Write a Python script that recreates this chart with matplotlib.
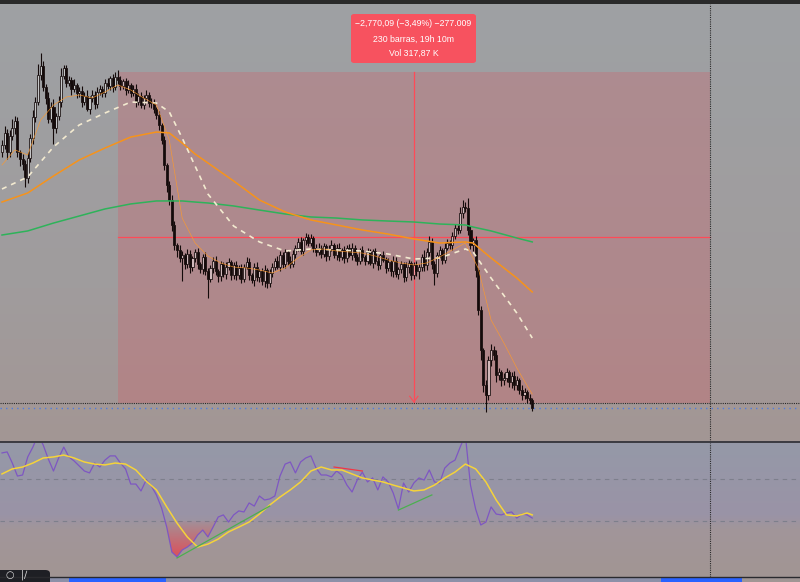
import numpy as np
import matplotlib.pyplot as plt
from matplotlib.patches import Rectangle, FancyBboxPatch
from matplotlib.lines import Line2D
from matplotlib.path import Path
from matplotlib.colors import to_rgb


# Dados: candles, medias moveis e RSI
##################################################################

first_open = 78700
closes = [
    78758, 78860, 78700, 78830, 78900, 78960, 78700, 78640, 78600, 78480,
    78650, 78820, 78990, 79120, 79344, 79420, 79240, 79150, 78980, 79080,
    78900, 79000, 79120, 79340, 79400, 79280, 79300, 79230, 79260, 79190,
    79210, 79120, 79170, 79060, 79150, 79180, 79100, 79200, 79230, 79190,
    79280, 79250, 79320, 79240, 79330, 79302, 79250, 79290, 79220, 79260,
    79190, 79230, 79120, 79170, 79090, 79150, 79180, 79110, 79120, 79060,
    79010, 78926, 78800, 78591, 78424, 78298, 78089, 77921, 77880, 77813,
    77838, 77760, 77850, 77740, 77810, 77860, 77760, 77720, 77820, 77700,
    77640, 77730, 77790, 77700, 77660, 77760, 77680, 77740, 77780, 77670,
    77750, 77670, 77730, 77640, 77740, 77780, 77670, 77630, 77740, 77650,
    77700, 77620, 77710, 77600, 77690, 77740, 77790, 77740, 77840, 77760,
    77860, 77790, 77760, 77850, 77900, 77950, 77870, 77960, 77990, 77940,
    77980, 77900, 77860, 77900, 77850, 77910, 77830, 77890, 77920, 77840,
    77900, 77820, 77880, 77810, 77900, 77840, 77900, 77820, 77790, 77880,
    77820, 77790, 77860, 77770, 77870, 77790, 77750, 77840, 77800, 77730,
    77780, 77700, 77790, 77680, 77720, 77760, 77650, 77740, 77770, 77670,
    77750, 77700, 77740, 77820, 77750, 77860, 77950, 77760, 77690, 77840,
    77880, 77800, 77900, 77940, 77920, 78000, 78060, 78050, 78190, 78240,
    78231, 78047, 77921, 77963, 77712, 77377, 77043, 76750, 76666, 76959,
    77043, 77001, 76833, 76858, 76791, 76808, 76858, 76775, 76825, 76750,
    76791, 76708, 76666, 76691, 76641, 76624, 76555]

wick_up = [
    40, 60, 30, 50, 80, 40, 30, 20, 40, 30,
    50, 30, 60, 40, 90, 110, 40, 30, 50, 40,
    60, 30, 50, 60, 30, 30, 40, 30, 50, 20,
    30, 40, 30, 50, 20, 40, 30, 40, 30, 20,
    30, 40, 20, 30, 40, 60, 30, 20, 30, 40,
    20, 30, 40, 20, 30, 30, 40, 20, 30, 20,
    20, 30, 20, 30, 20, 30, 40, 30, 20, 40,
    30, 20, 40, 30, 20, 30, 40, 20, 30, 40,
    30, 20, 30, 40, 20, 30, 20, 40, 30, 20,
    30, 40, 20, 30, 20, 40, 30, 20, 30, 40,
    20, 30, 40, 20, 30, 30, 20, 40, 30, 20,
    30, 20, 40, 30, 20, 30, 40, 20, 30, 20,
    30, 20, 30, 40, 20, 30, 20, 30, 40, 20,
    30, 40, 20, 30, 20, 30, 40, 20, 30, 20,
    30, 20, 40, 30, 20, 30, 40, 20, 30, 20,
    30, 20, 40, 30, 20, 30, 20, 40, 30, 20,
    30, 40, 20, 30, 60, 40, 50, 30, 30, 20,
    30, 20, 40, 30, 20, 30, 40, 30, 50, 60,
    40, 85, 30, 20, 30, 20, 30, 20, 40, 30,
    50, 30, 40, 30, 20, 40, 30, 20, 30, 40,
    30, 20, 40, 30, 20, 30, 20]

wick_dn = [
    40, 30, 60, 40, 30, 50, 40, 60, 50, 70,
    40, 30, 50, 40, 30, 40, 30, 50, 40, 30,
    130, 40, 30, 40, 30, 40, 30, 50, 30, 40,
    30, 40, 30, 20, 40, 30, 40, 30, 20, 30,
    30, 20, 30, 40, 20, 30, 30, 20, 40, 30,
    30, 20, 40, 30, 20, 30, 20, 30, 40, 30,
    30, 40, 30, 40, 60, 40, 50, 40, 60, 30,
    190, 40, 30, 50, 40, 30, 40, 30, 40, 30,
    160, 30, 40, 30, 50, 40, 30, 40, 30, 40,
    30, 40, 30, 40, 30, 20, 40, 30, 50, 30,
    40, 30, 50, 40, 30, 40, 30, 20, 40, 30,
    30, 40, 30, 20, 40, 30, 20, 30, 40, 30,
    30, 40, 30, 20, 40, 30, 40, 30, 20, 30,
    40, 30, 20, 40, 30, 20, 40, 30, 40, 30,
    30, 40, 30, 20, 40, 30, 40, 30, 20, 40,
    30, 40, 50, 30, 40, 30, 40, 30, 50, 40,
    30, 40, 60, 40, 50, 40, 30, 40, 100, 40,
    30, 40, 30, 20, 30, 40, 30, 40, 30, 40,
    30, 40, 30, 50, 60, 40, 80, 60, 140, 40,
    50, 40, 60, 40, 50, 40, 30, 40, 50, 40,
    40, 30, 40, 30, 40, 30, 20]

ma_idx = [0, 10, 20, 30, 40, 50, 60, 65, 70, 75, 80, 90, 100, 110, 120, 130,
          140, 150, 160, 170, 180, 183, 190, 200, 206]
ma_white = [78390, 78491, 78742, 78926, 79026, 79118, 79110, 79035, 78817,
            78583, 78348, 78080, 77947, 77871, 77888, 77880, 77871, 77846,
            77804, 77813, 77888, 77863, 77645, 77352, 77143]
ma_orange = [78281, 78357, 78499, 78633, 78733, 78825, 78867, 78859, 78775,
             78683, 78608, 78457, 78298, 78198, 78131, 78089, 78047, 78013,
             77972, 77938, 77947, 77938, 77813, 77645, 77528]
ma_green = [78005, 78039, 78105, 78164, 78223, 78265, 78290, 78290, 78290,
            78281, 78273, 78248, 78214, 78181, 78156, 78147, 78131, 78122,
            78114, 78097, 78089, 78072, 78039, 77980, 77947]

fast_idx = list(range(0, 206, 5)) + [206]
ma_fast = [78591, 78717, 78675, 78968, 79093, 79160, 79177, 79152, 79202,
           79261, 79219, 79152, 79093, 78800, 78147, 77938, 77829, 77771,
           77737, 77729, 77712, 77687, 77729, 77813, 77880, 77888, 77871,
           77863, 77854, 77829, 77796, 77771, 77754, 77771, 77821, 77880,
           77938, 77729, 77294, 77101, 76892, 76708, 76674]

rsi_idx = list(range(0, 207, 2))
rsi = [62.4, 62.9, 57.6, 51.4, 51.9, 60.5, 65.2, 71.0, 66.2, 59.5,
       53.8, 60.0, 65.2, 60.5, 58.6, 56.2, 53.8, 52.9, 57.6, 55.7,
       59.0, 61.0, 61.0, 57.6, 54.8, 47.6, 47.6, 44.3, 49.5, 46.7,
       42.4, 36.2, 27.1, 15.2, 12.9, 16.2, 17.6, 19.5, 23.3, 25.7,
       22.4, 27.1, 31.9, 32.9, 29.5, 32.9, 34.8, 34.3, 38.6, 37.1,
       41.9, 40.0, 40.5, 41.9, 51.4, 57.1, 58.1, 52.9, 58.1, 60.0,
       61.0, 55.2, 51.9, 51.9, 51.0, 53.8, 51.9, 47.1, 43.8, 49.5,
       53.3, 48.6, 50.5, 44.8, 51.0, 48.6, 43.3, 35.7, 48.1, 43.8,
       48.1, 50.5, 49.5, 54.3, 48.6, 48.1, 55.2, 57.6, 59.0, 65.2,
       71.0, 47.1, 35.7, 28.1, 29.5, 36.7, 33.3, 32.9, 33.8, 34.3,
       31.4, 33.3, 32.9, 31.4]

rsi_ma_idx = list(range(0, 205, 4)) + [206]
rsi_ma = [52.4, 54.8, 55.7, 57.6, 60.0, 60.5, 61.4, 60.0, 58.1, 57.1,
          56.7, 57.6, 57.1, 54.3, 49.0, 44.8, 36.7, 29.0, 22.4, 17.6,
          19.0, 21.4, 24.8, 27.1, 29.5, 33.3, 37.6, 41.4, 44.8, 48.6,
          53.8, 55.7, 54.3, 54.3, 52.4, 50.5, 49.5, 48.6, 47.1, 45.7,
          44.3, 44.8, 47.1, 50.5, 53.3, 57.1, 54.8, 48.6, 40.0, 32.9,
          32.4, 33.8, 32.9]

div_bull = [([68, 104], [12.4, 37.1]), ([154, 167], [35.2, 42.4])]
div_bear = [([129, 140], [55.7, 53.8])]

meas_start = 45
meas_bars = 230
meas_hi = 79370
meas_lo = 76600
tooltip = ["\u22122,770,09 (\u22123,49%) \u2212277.009",
           "230 barras, 19h 10m",
           "Vol 317,87 K"]


# Figura
##################################################################

W, H = 800, 582
fig = plt.figure(figsize=(W / 100, H / 100), dpi=100)
fig.patch.set_facecolor('#9ea1a4')

xlim = (-0.777, 310.02)


def gradiente(ax, stops, ext):
    pos = [p for p, c in stops]
    cols = np.array([to_rgb(c) for p, c in stops])
    t = np.linspace(0, 1, 256)
    img = np.stack([np.interp(t, pos, cols[:, k]) for k in range(3)], axis=1)
    ax.imshow(img[:, None, :], extent=ext, origin='lower', aspect='auto',
              interpolation='bilinear', zorder=0)


# painel principal
ax = fig.add_axes([0, 140 / H, 1, 438 / H])
ylim = (76272.5, 79938.5)
gradiente(ax, [(0, '#a39694'), (0.35, '#a09c9d'), (1, '#9ea1a4')],
          [xlim[0], xlim[1], ylim[0], ylim[1]])
ax.set_xlim(xlim)
ax.set_ylim(ylim)
ax.axis('off')

ax.add_patch(Rectangle((meas_start, meas_lo), meas_bars, meas_hi - meas_lo,
                       facecolor='#f23645', alpha=0.19, edgecolor='none',
                       zorder=1))

mid_bar = meas_start + meas_bars / 2
mid_price = (meas_hi + meas_lo) / 2
ax.plot([mid_bar, mid_bar], [meas_lo, meas_hi], color='#ff4a57', lw=0.9,
        zorder=2)
ax.plot([meas_start, meas_start + meas_bars], [mid_price, mid_price],
        color='#ff4a57', lw=0.9, zorder=2)
ax.plot([mid_bar - 1.6, mid_bar, mid_bar + 1.6],
        [meas_lo + 55, meas_lo + 8, meas_lo + 55], color='#ff4a57', lw=0.8,
        zorder=2)

ax.axhline(meas_lo, color='#2a2a2a', lw=0.8, ls=(0, (1, 1)), zorder=2)
ax.axhline(closes[-1], color='#4f7be0', lw=1.0, ls=(0, (1, 3)), zorder=2)

# candles
c = np.array(closes, dtype=float)
o = np.array([first_open] + closes[:-1], dtype=float)
x = np.arange(len(c))
top = np.maximum(o, c)
bot = np.minimum(o, c)
hi = top + np.array(wick_up)
lo = bot - np.array(wick_dn)
cor = '#140a0a'
ax.vlines(x, top, hi, color=cor, lw=0.8, zorder=3)
ax.vlines(x, lo, bot, color=cor, lw=0.8, zorder=3)
alta = c >= o
ax.bar(x[alta], (c - o)[alta], bottom=o[alta], width=0.8,
       color=(1, 1, 1, 0.42), edgecolor=cor, linewidth=0.55, zorder=3.1)
ax.bar(x[~alta], (o - c)[~alta], bottom=c[~alta], width=0.8,
       color=cor, edgecolor=cor, linewidth=0.55, zorder=3.1)

# medias moveis
ax.plot(ma_idx, ma_green, color='#2eb35a', lw=1.1, zorder=4)
ax.plot(ma_idx, ma_orange, color='#f7931a', lw=1.1, zorder=4)
ax.plot(ma_idx, ma_white, color='#f3ead0', lw=1.2, ls=(0, (3, 3)), zorder=4)
ax.plot(fast_idx, ma_fast, color='#ff9a2a', lw=0.5, alpha=0.85, zorder=4)

ax.axvline(meas_start + meas_bars, color='#2a2a2a', lw=0.8,
           ls=(0, (1, 1)), zorder=2)

# painel RSI
iax = fig.add_axes([0, 5 / H, 1, 134 / H])
rlim = (3.33, 67.14)
gradiente(iax, [(0, '#a29593'), (0.36, '#a1969a'), (0.46, '#9a93a6'),
                (1, '#9599a8')], [xlim[0], xlim[1], rlim[0], rlim[1]])
iax.set_xlim(xlim)
iax.set_ylim(rlim)
iax.axis('off')

for nivel in (50, 30):
    iax.axhline(nivel, color='#7d7f8c', lw=0.8, ls=(0, (4, 4)), zorder=1)

r = np.array(rsi)
ri = np.array(rsi_idx)
fill = iax.fill_between(ri, r, 30, where=r < 30, interpolate=True,
                        facecolor='none', edgecolor='none')
grad = np.zeros((128, 1, 4))
grad[:, 0, :3] = to_rgb('#f23645')
grad[:, 0, 3] = np.linspace(0.85, 0.05, 128)
img = iax.imshow(grad, extent=[ri.min(), ri.max(), 10, 30], origin='lower',
                 aspect='auto', interpolation='bilinear', zorder=2)
img.set_clip_path(Path.make_compound_path(*fill.get_paths()),
                  transform=iax.transData)
iax.set_xlim(xlim)
iax.set_ylim(rlim)

iax.plot(rsi_idx, rsi, color='#7e57c2', lw=0.9, zorder=3)
iax.plot(rsi_ma_idx, rsi_ma, color='#f5d33a', lw=1.1, zorder=4)
for xs, ys in div_bull:
    iax.plot(xs, ys, color='#4caf50', lw=0.9, zorder=4)
for xs, ys in div_bear:
    iax.plot(xs, ys, color='#f23645', lw=0.9, zorder=4)
iax.axvline(meas_start + meas_bars, color='#2a2a2a', lw=0.8,
            ls=(0, (1, 1)), zorder=5)

# molduras e barra inferior
fig.add_artist(Rectangle((0, 1 - 4 / H), 1, 4 / H, transform=fig.transFigure,
                         facecolor='#2a2a2a', edgecolor='none'))
fig.add_artist(Line2D([0, 1], [1 - 442 / H] * 2, transform=fig.transFigure,
                      color='#33333a', lw=1.3))
fig.add_artist(Rectangle((0, 0), 1, 5 / H, transform=fig.transFigure,
                         facecolor='#8c90a8', edgecolor='none'))
fig.add_artist(Rectangle((742 / W, 0), 58 / W, 5 / H,
                         transform=fig.transFigure, facecolor='#a09694',
                         edgecolor='none'))
for x0, x1 in [(69, 166), (661, 742)]:
    fig.add_artist(Rectangle((x0 / W, 0), (x1 - x0) / W, 4 / H,
                             transform=fig.transFigure, facecolor='#2962ff',
                             edgecolor='none'))
fig.add_artist(Line2D([0, 1], [5 / H] * 2, transform=fig.transFigure,
                      color='#2a2a2e', lw=1.0))
fig.add_artist(FancyBboxPatch((-6 / W, -6 / H), 56 / W, 18 / H,
                              boxstyle='round,pad=0,rounding_size=0.006',
                              transform=fig.transFigure, facecolor='#1e1f24',
                              edgecolor='none'))
fig.text(6 / W, 2 / H, '\u25cb  |\u2215', color='#d8d8d8', fontsize=7,
         va='bottom', ha='left')

# caixa de medicao
fig.add_artist(FancyBboxPatch((351 / W, 1 - 63 / H), 125 / W, 49 / H,
                              boxstyle='round,pad=0,rounding_size=0.004',
                              transform=fig.transFigure, facecolor='#f7525f',
                              edgecolor='none'))
for txt, yp in zip(tooltip, [24, 39, 53]):
    fig.text(413.5 / W, 1 - yp / H, txt, color='white', fontsize=6.3,
             ha='center', va='center', family='Liberation Sans')

fig.savefig('out.png', dpi=100, facecolor=fig.get_facecolor())
